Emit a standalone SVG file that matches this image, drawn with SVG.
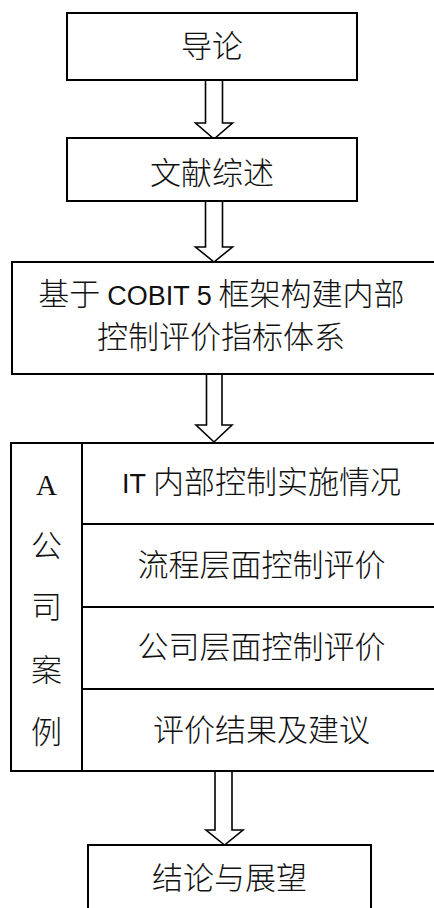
<svg xmlns="http://www.w3.org/2000/svg" width="434" height="908" viewBox="0 0 434 908">
<style>
.box{fill:#fff;stroke:#000;stroke-width:2}
.ln{stroke:#000;stroke-width:2;fill:none}
.arr{fill:#fff;stroke:#000;stroke-width:1.6;stroke-linejoin:miter}
.t{font-family:"Noto Sans CJK SC","Liberation Sans",sans-serif;font-size:31px;font-weight:300;fill:#111;text-anchor:middle}
.lat{font-family:"Liberation Sans","Noto Sans CJK SC",sans-serif;font-weight:400;font-size:27px}
.a{font-family:"Liberation Serif",serif;font-size:29px;fill:#111;text-anchor:middle}
</style>
<rect width="434" height="908" fill="#fff"/>
<g id="connectors">
<path class="arr" d="M205.5,80 V123 H195.5 L214,139 L232.5,123 H222.5 V80"/>
<path class="arr" d="M205.5,201 V247 H195.5 L214,262 L232.5,247 H222.5 V201"/>
<path class="arr" d="M206.5,374 V425 H196 L214,442 L232,425 H222 V374"/>
<path class="arr" d="M215,771 V830 H206 L224.5,845 L243,830 H232 V771"/>
</g>
<g id="n1"><rect class="box" x="67" y="13" width="290" height="67"/><text class="t" x="212" y="57">导论</text></g>
<g id="n2"><rect class="box" x="67" y="138" width="290" height="63"/><text class="t" x="212" y="184">文献综述</text></g>
<g id="n3"><rect class="box" x="12" y="262" width="430" height="112"/>
<text class="t" x="221.5" y="305">基于 <tspan class="lat">COBIT 5</tspan> 框架构建内部</text>
<text class="t" x="221" y="348">控制评价指标体系</text></g>
<g id="n4"><rect class="box" x="11" y="443" width="432" height="328"/>
<path class="ln" d="M82,443 V771 M82,524 H440 M82,607 H440 M82,689 H440"/>
<g id="n4-left">
<text class="a" x="46.5" y="495">A</text>
<text class="t" x="46.5" y="557">公</text>
<text class="t" x="46.5" y="618">司</text>
<text class="t" x="46.5" y="681">案</text>
<text class="t" x="46.5" y="743">例</text>
</g>
<text class="t" x="261.5" y="493"><tspan class="lat">IT</tspan> 内部控制实施情况</text>
<text class="t" x="261.5" y="576">流程层面控制评价</text>
<text class="t" x="261.5" y="658">公司层面控制评价</text>
<text class="t" x="261.5" y="741">评价结果及建议</text>
</g>
<g id="n5"><rect class="box" x="88" y="845" width="283" height="80"/><text class="t" x="229.5" y="889">结论与展望</text></g>
</svg>
